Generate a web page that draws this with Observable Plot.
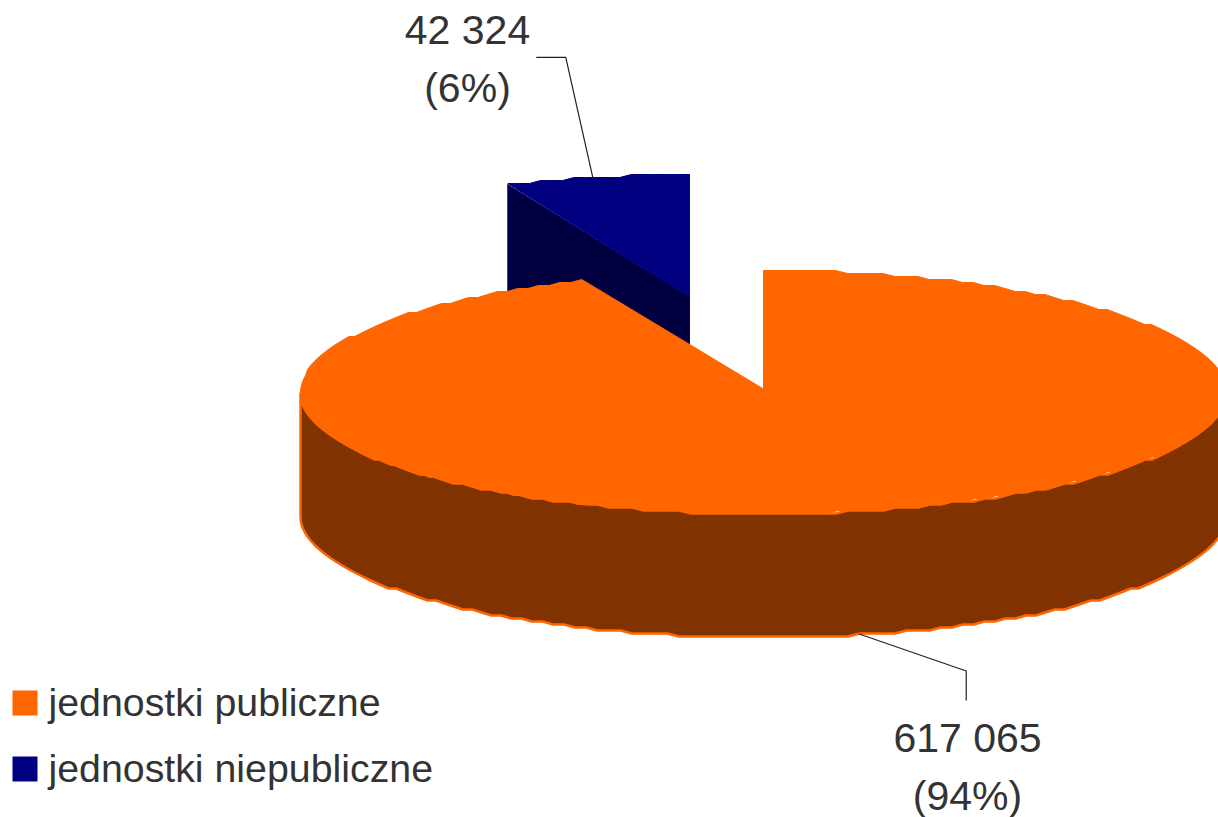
<!DOCTYPE html>
<html>
<head>
<meta charset="utf-8">
<script src="https://cdn.jsdelivr.net/npm/d3@7"></script>
<script src="https://cdn.jsdelivr.net/npm/@observablehq/plot@0.6"></script>
<style>html,body{margin:0;padding:0;background:#fff;overflow:hidden}svg{display:block}</style>
</head>
<body>
<div id="chart"></div>
<script>
const categories = ["jednostki publiczne", "jednostki niepubliczne"];
const values = [617065, 42324];
const valueLabels = ["617 065", "42 324"];
const percentLabels = ["(94%)", "(6%)"];
const topColors = ["#ff6600", "#000080"];
const wallColors = ["#803300", "#000040"];

// Pie projection (pixels of the 1218x817 frame)
const W = 1218, H = 817;
const RX = 463, RY = 121.5, DEPTH = 124;
const CX = 763, CY = 391.5;
const BLUE_CX = 689, BLUE_CY = 296;
const SNAP = 3; // the original's rim is a coarse, stepped outline

const total = d3.sum(values);
const blueSweep = 360 * values[1] / total;

const rad = d => d * Math.PI / 180;
const onRim = (a, cx, cy, dz = 0) => ({
  x: cx + RX * Math.sin(rad(a)),
  y: cy - RY * Math.cos(rad(a)) + dz
});
const arc = (a0, a1, cx, cy, dz = 0) => {
  const n = Math.max(2, Math.ceil(Math.abs(a1 - a0) / 1.5));
  return d3.range(n + 1).map(i => {
    const p = onRim(a0 + (a1 - a0) * i / n, cx, cy, dz);
    return {x: p.x, y: Math.round(p.y / SNAP) * SNAP};
  });
};

// Orange slice: clockwise from 12 o'clock up to the gap left by the blue one
const orangeEnd = 360 - blueSweep;
const orangeTop = [{x: CX, y: CY - 3}, ...arc(0, orangeEnd, CX, CY)];
const orangeWall = [
  ...arc(90, Math.min(270, orangeEnd), CX, CY),
  ...arc(Math.min(270, orangeEnd), 90, CX, CY, DEPTH)
];

// Blue slice: pulled out, only its cut face and top can be seen
const blueTop = [{x: BLUE_CX, y: BLUE_CY}, ...arc(-blueSweep, 0, BLUE_CX, BLUE_CY)];
const blueStart = onRim(-blueSweep, BLUE_CX, BLUE_CY);
const blueFace = [
  blueStart,
  {x: BLUE_CX, y: BLUE_CY},
  {x: BLUE_CX, y: BLUE_CY + DEPTH},
  {x: blueStart.x, y: blueStart.y + DEPTH}
];

// Leader lines start at each slice's mid-angle
const orangeMid = onRim(orangeEnd / 2, CX, CY, DEPTH);
const blueMid = onRim(-blueSweep / 2, BLUE_CX, BLUE_CY);
const leaderOrange = [
  {x: orangeMid.x + 3, y: orangeMid.y - 1},
  {x: orangeMid.x + 110, y: orangeMid.y + 36},
  {x: orangeMid.x + 110, y: orangeMid.y + 65}
];
const leaderBlue = [
  {x: blueMid.x - 4, y: blueMid.y},
  {x: blueMid.x - 31, y: blueMid.y - 120},
  {x: blueMid.x - 60, y: blueMid.y - 120}
];

const dataLabels = [
  {x: 967, y: 762, text: valueLabels[0] + "\n" + percentLabels[0]},
  {x: 467, y: 54, text: valueLabels[1] + "\n" + percentLabels[1]}
];
const legendRows = categories.map((c, i) => ({
  name: c, color: topColors[i], y: 702.5 + i * 66
}));

const poly = (pts, fill, stroke, strokeWidth) =>
  Plot.line(pts.concat(pts[0]), {x: "x", y: "y", fill, stroke, strokeWidth, strokeLinejoin: "round", curve: "linear"});
const leader = pts =>
  Plot.line(pts, {x: "x", y: "y", stroke: "#222222", strokeWidth: 1.2, curve: "linear"});

const chart = Plot.plot({
  width: W, height: H,
  margin: 0,
  x: {domain: [0, W], range: [0, W], axis: null},
  y: {domain: [0, H], range: [0, H], axis: null},
  style: {background: "#fff"},
  marks: [
    poly(blueFace, wallColors[1], topColors[1], 1),
    poly(blueTop, topColors[1], topColors[1], 1),
    leader(leaderBlue),
    poly(orangeWall, wallColors[0], topColors[0], 2.5),
    poly(orangeTop, topColors[0], topColors[0], 1),
    leader(leaderOrange),
    Plot.text(dataLabels, {
      x: "x", y: "y", text: "text", fill: "#333333",
      fontFamily: "Liberation Sans", fontSize: 41, lineHeight: 1.4,
      textAnchor: "middle", lineAnchor: "middle"
    }),
    Plot.dot(legendRows, {
      x: 24.5, y: "y", r: 14.1, symbol: "square", fill: "color", stroke: null
    }),
    Plot.text(legendRows, {
      x: 48, y: "y", text: "name", fill: "#333333",
      fontFamily: "Liberation Sans", fontSize: 39.3,
      textAnchor: "start", lineAnchor: "middle"
    })
  ]
});
document.getElementById("chart").appendChild(chart);
</script>
</body>
</html>
